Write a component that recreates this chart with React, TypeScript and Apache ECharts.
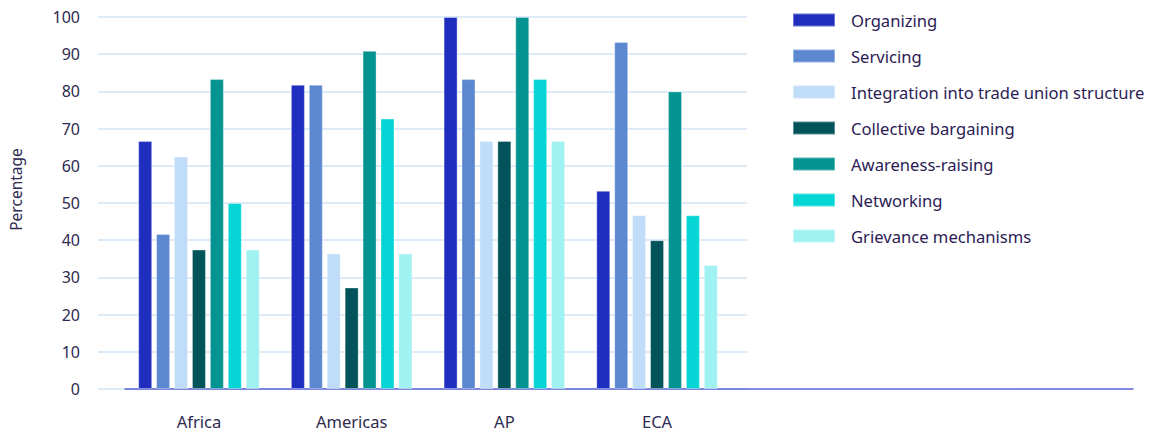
import React, { useEffect, useRef } from "react";
import * as echarts from "echarts";

const categories = ["Africa", "Americas", "AP", "ECA"];
const seriesNames = [
  "Organizing",
  "Servicing",
  "Integration into trade union structure",
  "Collective bargaining",
  "Awareness-raising",
  "Networking",
  "Grievance mechanisms",
];
const organizing = [66.7, 81.8, 100, 53.3];
const servicing = [41.7, 81.8, 83.3, 93.3];
const integration = [62.5, 36.4, 66.7, 46.7];
const collective = [37.5, 27.3, 66.7, 40.0];
const awareness = [83.3, 90.9, 100, 80.0];
const networking = [50.0, 72.7, 83.3, 46.7];
const grievance = [37.5, 36.4, 66.7, 33.3];
const colors = ["#1f2ebf", "#5b88d0", "#bfdcf8", "#02545a", "#039391", "#05d5d5", "#a0f1f1"];
const yTicks = { min: 0, max: 100, interval: 10 };

export default function App() {
  const ref = useRef<HTMLDivElement>(null);
  useEffect(() => {
    if (!ref.current) return;
    const chart = echarts.init(ref.current, null, { renderer: "svg" });
    const values = [organizing, servicing, integration, collective, awareness, networking, grievance];
    const font = "'Noto Sans', sans-serif";
    const top = 17;
    const height = 372;
    chart.setOption({
      animation: false,
      textStyle: { fontFamily: font },
      grid: [
        { left: 98, top, width: 649, height, outerBoundsMode: "none", containLabel: false },
        { left: 122.6, top, width: 610.8, height, outerBoundsMode: "none", containLabel: false },
        { left: 125, top, width: 1008, height, outerBoundsMode: "none", containLabel: false },
      ],
      xAxis: [
        { gridIndex: 0, type: "value", show: false },
        {
          gridIndex: 1,
          type: "category",
          data: categories,
          axisLine: { show: false },
          axisTick: { show: false },
          axisLabel: { color: "#2e2a50", fontSize: 16.5, margin: 24, fontFamily: font },
        },
        {
          gridIndex: 2,
          type: "value",
          axisLine: { show: true, lineStyle: { color: "#5a63d4", width: 1.5 } },
          axisTick: { show: false },
          axisLabel: { show: false },
          splitLine: { show: false },
        },
      ],
      yAxis: [
        {
          gridIndex: 0,
          type: "value",
          min: yTicks.min,
          max: yTicks.max,
          interval: yTicks.interval,
          name: "Percentage",
          nameLocation: "middle",
          nameGap: 74,
          nameTextStyle: {
            color: "#2e2a50",
            fontSize: 15.5,
            fontFamily: font,
            padding: [0, 0, 0, 27],
          },
          axisLine: { show: false },
          axisTick: { show: false },
          axisLabel: { color: "#2e2a50", fontSize: 16, margin: 18, fontFamily: font },
          splitLine: { lineStyle: { color: "#d2e4f7", width: 1.5 } },
        },
        { gridIndex: 1, type: "value", min: yTicks.min, max: yTicks.max, show: false },
        { gridIndex: 2, type: "value", min: 0, max: 100, show: false },
      ],
      legend: {
        orient: "vertical",
        left: 792,
        top: 10,
        padding: 0,
        itemWidth: 42,
        itemHeight: 13,
        itemGap: 16,
        icon: "rect",
        data: seriesNames,
        textStyle: {
          color: "#2b1b55",
          fontSize: 16.6,
          lineHeight: 20,
          fontFamily: font,
          padding: [0, 0, 0, 11],
        },
      },
      series: seriesNames.map((name, i) => ({
        name,
        type: "bar",
        xAxisIndex: 1,
        yAxisIndex: 1,
        data: values[i],
        barWidth: 14,
        barGap: "28%",
        itemStyle: {
          color: colors[i],
          borderColor: "rgba(255,255,255,0.35)",
          borderWidth: 1,
        },
      })),
    });
    return () => chart.dispose();
  }, []);
  return (
    <div
      ref={ref}
      style={{ position: "absolute", left: 0, top: 0, width: 1153, height: 432 }}
    />
  );
}
